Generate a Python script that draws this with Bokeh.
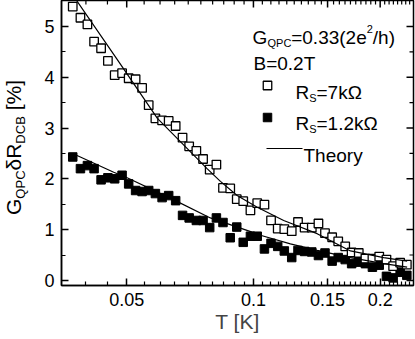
import math
from bokeh.plotting import figure
from bokeh.layouts import row
from bokeh.models import Range1d, FixedTicker, Label, CustomJSTickFormatter, Div
from bokeh.embed import file_html
from bokeh.resources import INLINE

# ---------------- data ----------------
T_K = [0.03722, 0.03882, 0.04033, 0.04183, 0.04346, 0.04511, 0.04682, 0.04875,
       0.05054, 0.05249, 0.05439, 0.05639, 0.05849, 0.06068, 0.06290, 0.06535,
       0.06786, 0.07036, 0.07318, 0.07592, 0.07872, 0.08166, 0.08466, 0.08808,
       0.09128, 0.09457, 0.09837, 0.1021, 0.1062, 0.1101, 0.1142, 0.1184,
       0.1233, 0.1276, 0.1323, 0.1376, 0.1427, 0.1479, 0.1538, 0.1590,
       0.1652, 0.1711, 0.1779, 0.1845, 0.1917, 0.1990, 0.2070, 0.2147,
       0.2231, 0.2314]

dR_7k = [5.39, 5.17, 5.04, 4.70, 4.57, 4.32, 4.04, 4.08, 3.98, 3.96,
         3.79, 3.45, 3.19, 3.15, 3.14, 3.04, 2.81, 2.64, 2.55, 2.39,
         2.18, 2.28, 1.82, 1.81, 1.60, 1.56, 1.38, 1.52, 1.49, 1.18,
         1.02, 1.01, 0.97, 1.15, 1.04, 1.04, 1.12, 0.93, 0.85, 0.77,
         0.67, 0.55, 0.54, 0.43, 0.43, 0.47, 0.41, 0.28, 0.35, 0.31]

dR_1k2 = [2.43, 2.20, 2.26, 2.20, 1.98, 2.02, 2.00, 2.07, 1.90, 1.77,
          1.75, 1.77, 1.71, 1.63, 1.67, 1.57, 1.28, 1.23, 1.18, 1.18,
          1.04, 1.23, 1.14, 0.84, 1.05, 0.75, 0.87, 0.87, 0.62, 0.73,
          0.67, 0.58, 0.45, 0.59, 0.57, 0.56, 0.49, 0.54, 0.38, 0.45,
          0.41, 0.33, 0.36, 0.33, 0.26, 0.30, 0.08, 0.05, 0.16, 0.10]

theory_7k_T = [0.03722, 0.04745, 0.05914, 0.0776, 0.08348, 0.09147, 0.1021,
               0.118, 0.1417, 0.170, 0.2039, 0.2318]
theory_7k = [5.62, 4.35, 3.19, 2.20, 1.95, 1.67, 1.44, 1.18, 0.92, 0.58, 0.45, 0.38]

theory_1k2_T = [0.03743, 0.04657, 0.05012, 0.06455, 0.07901, 0.09929, 0.1039,
                0.1224, 0.1417, 0.170, 0.2039, 0.2318]
theory_1k2 = [2.49, 2.13, 2.02, 1.59, 1.23, 0.95, 0.89, 0.72, 0.59, 0.45, 0.33, 0.26]

x_major_ticks = [0.05, 0.1, 0.15, 0.2]
x_minor_ticks = [round(0.04 + 0.005 * i, 3) for i in range(41)
                 if round(0.04 + 0.005 * i, 3) not in x_major_ticks
                 and 0.04 + 0.005 * i < 0.2399]
y_major_ticks = [0, 1, 2, 3, 4, 5]
y_minor_ticks = [0.5, 1.5, 2.5, 3.5, 4.5]

X0, X1 = 0.035, 0.24
Y0, Y1 = -0.1, 5.51

# ---------------- layout helpers (page pixel -> data) ----------------
W, H = 415, 339
LEFT_W = 36
FL, FR, FT, FB = 61, 413, 0, 285


def dx(px):
    a, b = math.log10(X0), math.log10(X1)
    return 10 ** (a + (px - FL) / (FR - FL) * (b - a))


def dy(py):
    return Y0 + (FB - py) / (FB - FT) * (Y1 - Y0)


FONT = "Liberation Sans"

p = figure(width=W - LEFT_W, height=H, x_axis_type="log",
           x_range=Range1d(X0, X1), y_range=Range1d(Y0, Y1),
           output_backend="svg", toolbar_location=None,
           min_border_left=FL - LEFT_W, min_border_right=W - FR,
           min_border_top=FT, min_border_bottom=H - FB)
p.xgrid.visible = False
p.ygrid.visible = False
p.outline_line_color = "black"
p.outline_line_width = 1.5
p.background_fill_color = "white"
p.border_fill_color = "white"


def style(ax):
    ax.major_tick_in = 7
    ax.major_tick_out = 0
    ax.minor_tick_in = 4
    ax.minor_tick_out = 0
    ax.axis_line_color = "black"
    ax.axis_line_width = 1.5
    ax.major_tick_line_color = "black"
    ax.major_tick_line_width = 1.5
    ax.minor_tick_line_color = "black"
    ax.minor_tick_line_width = 1.2
    ax.major_label_text_font = FONT
    ax.major_label_text_color = "black"
    ax.major_label_text_font_size = "18px"


xa = p.xaxis[0]
xa.ticker = FixedTicker(ticks=x_major_ticks, minor_ticks=x_minor_ticks)
xa.formatter = CustomJSTickFormatter(code="return tick.toString();")
style(xa)
xa.major_label_standoff = 7
xa.axis_label = "T [K]"
xa.axis_label_text_font = FONT
xa.axis_label_text_font_size = "21px"
xa.axis_label_text_font_style = "normal"
xa.axis_label_standoff = 1

ya = p.yaxis[0]
ya.ticker = FixedTicker(ticks=y_major_ticks, minor_ticks=y_minor_ticks)
style(ya)
ya.major_label_standoff = 7

# mirrored inward ticks on top and right frame edges
MAJ, MIN = 7, 4
ty_maj = Y1 - MAJ / (FB - FT) * (Y1 - Y0)
ty_min = Y1 - MIN / (FB - FT) * (Y1 - Y0)
p.segment(x0=x_major_ticks, y0=[Y1] * len(x_major_ticks), x1=x_major_ticks,
          y1=[ty_maj] * len(x_major_ticks), line_color="black", line_width=1.5)
p.segment(x0=x_minor_ticks, y0=[Y1] * len(x_minor_ticks), x1=x_minor_ticks,
          y1=[ty_min] * len(x_minor_ticks), line_color="black", line_width=1.2)
lx = math.log10(X1 / X0) / (FR - FL)
rx_maj = X1 / 10 ** (MAJ * lx)
rx_min = X1 / 10 ** (MIN * lx)
p.segment(x0=[X1] * len(y_major_ticks), y0=y_major_ticks,
          x1=[rx_maj] * len(y_major_ticks), y1=y_major_ticks,
          line_color="black", line_width=1.5)
p.segment(x0=[X1] * len(y_minor_ticks), y0=y_minor_ticks,
          x1=[rx_min] * len(y_minor_ticks), y1=y_minor_ticks,
          line_color="black", line_width=1.2)

# ---------------- data marks ----------------
p.scatter(T_K, dR_1k2, marker="square", size=8.5, fill_color="black",
          line_color="black", line_width=1)
p.scatter(T_K, dR_7k, marker="square", size=8.5, fill_color="white",
          line_color="black", line_width=1.3)
p.line(theory_7k_T, theory_7k, line_color="black", line_width=1.2)
p.line(theory_1k2_T, theory_1k2, line_color="black", line_width=1.2)


# ---------------- legend / annotations ----------------
def lab(px, py, text, size):
    p.add_layout(Label(x=dx(px), y=dy(py), text=text, text_font=FONT,
                       text_font_size=size, text_color="black",
                       text_baseline="alphabetic", text_align="left"))


LS, SS = "19px", "11px"
lab(252, 37, "G", LS)
lab(267, 42, "QPC", SS)
lab(290.7, 37, "=0.33(2e", LS)
lab(366.2, 28, "2", SS)
lab(372.3, 37, "/h)", LS)
lab(253, 63, "B=0.2T", LS)

lab(295, 92, "R", LS)
lab(308.7, 97, "S", SS)
lab(316, 92, "=7k\u03a9", LS)
lab(295, 123, "R", LS)
lab(308.7, 128, "S", SS)
lab(316, 123, "=1.2k\u03a9", LS)
lab(303, 155, "Theory", LS)

p.scatter([dx(267)], [dy(85)], marker="square", size=8.5, fill_color="white",
          line_color="black", line_width=1.3)
p.scatter([dx(267)], [dy(117)], marker="square", size=8.5, fill_color="black",
          line_color="black", line_width=1)
p.line([dx(266), dx(302)], [dy(148), dy(148)], line_color="black", line_width=1.2)

# ---------------- rotated y-axis title (HTML text, rotated with CSS) ----------------
SUB = 'font-size:13px;vertical-align:-4px;'
ylabel_html = (
    '<div style="position:relative;width:%dpx;height:%dpx;overflow:visible;">'
    '<div style="position:absolute;left:2px;top:214.5px;transform:rotate(-90deg);'
    'transform-origin:0 0;white-space:nowrap;font-family:\'Liberation Sans\';'
    'font-size:21px;color:black;line-height:normal;">'
    'G<span style="%s">QPC</span>&delta;R<span style="%s">DCB</span> [%%]'
    '</div></div>' % (LEFT_W, H, SUB, SUB)
)
side = Div(text=ylabel_html, width=LEFT_W, height=H, margin=0)

layout = row(side, p)
open("out.html", "w").write(file_html(layout, INLINE))
